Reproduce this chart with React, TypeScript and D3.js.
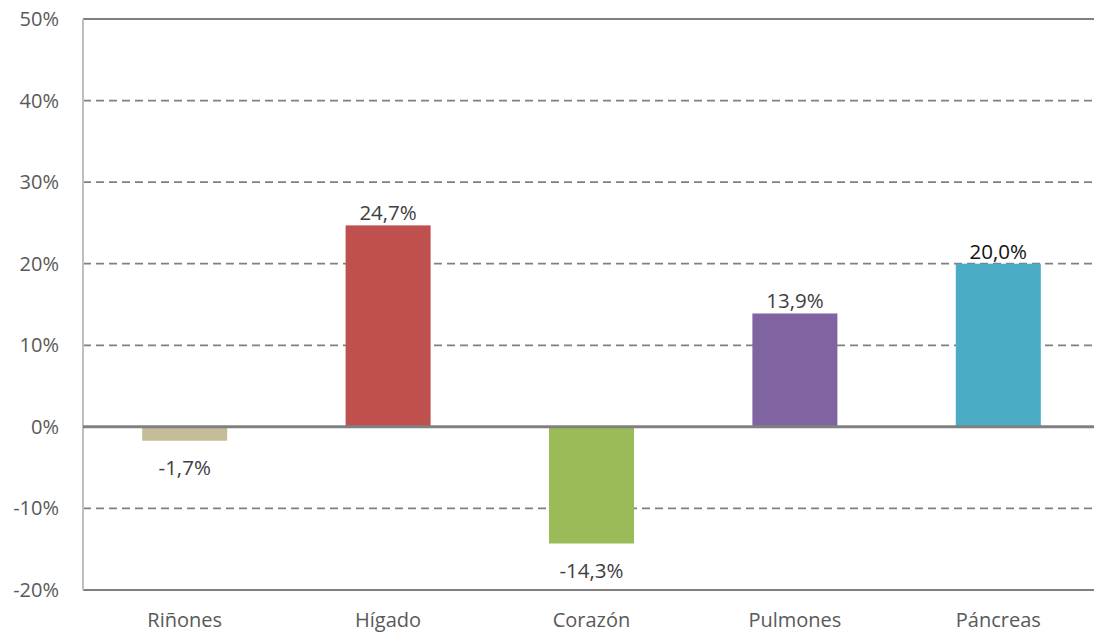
import React from 'react';
import * as d3 from 'd3';

const categories = ['Riñones', 'Hígado', 'Corazón', 'Pulmones', 'Páncreas'];
const values = [-1.7, 24.7, -14.3, 13.9, 20.0];
const barColors = ['#c4bd97', '#c0504d', '#9bbb59', '#8064a2', '#4bacc6'];
const yTicks = [-20, -10, 0, 10, 20, 30, 40, 50];

const W = 1094;
const H = 637;
const margin = { top: 19, right: -6, bottom: 47, left: 83 };

const fmt = (v: number) => `${v.toFixed(1).replace('.', ',')}%`;

const App: React.FC = () => {
  const x = d3.scaleBand<string>()
    .domain(categories)
    .range([margin.left, W - margin.right])
    .paddingInner(0.582)
    .paddingOuter(0.291);

  const y = d3.scaleLinear()
    .domain([-20, 50])
    .range([H - margin.bottom, margin.top]);

  const font = '"Open Sans", sans-serif';

  return (
    <svg width={W} height={H} style={{ position: 'absolute', left: 0, top: 0, background: '#fff' }}>
      {/* gridlines */}
      {yTicks.filter(t => t !== 0).map(t => {
        const solid = t === 50 || t === -20;
        return (
          <line
            key={`g${t}`}
            x1={margin.left}
            x2={W}
            y1={y(t)}
            y2={y(t)}
            stroke="#808080"
            strokeWidth={solid ? 1.8 : 1.7}
            strokeDasharray={solid ? undefined : '8,5'}
          />
        );
      })}

      {/* left axis */}
      <line x1={margin.left} x2={margin.left} y1={y(50)} y2={y(-20)} stroke="#bfbfbf" strokeWidth={2} />

      {/* tick labels */}
      {yTicks.map(t => (
        <text
          key={`t${t}`}
          x={59}
          y={y(t) + 7}
          textAnchor="end"
          fontFamily={font}
          fontSize={20}
          fill="#595959"
        >
          {`${t}%`}
        </text>
      ))}

      {/* bars */}
      {categories.map((c, i) => {
        const v = values[i];
        return (
          <rect
            key={`b${c}`}
            x={x(c)}
            width={x.bandwidth()}
            y={y(Math.max(0, v))}
            height={Math.abs(y(v) - y(0))}
            fill={barColors[i]}
          />
        );
      })}

      {/* zero line */}
      <line x1={margin.left} x2={W} y1={y(0)} y2={y(0)} stroke="#808080" strokeWidth={3} />

      {/* data labels */}
      {categories.map((c, i) => {
        const v = values[i];
        const cx = (x(c) ?? 0) + x.bandwidth() / 2;
        const ty = v >= 0 ? y(v) - 5 : y(v) + 34;
        return (
          <text
            key={`l${c}`}
            x={cx}
            y={ty}
            textAnchor="middle"
            fontFamily={font}
            fontSize={20.5}
            fill={c === 'Páncreas' ? '#111' : '#404040'}
          >
            {fmt(v)}
          </text>
        );
      })}

      {/* category labels */}
      {categories.map(c => (
        <text
          key={`c${c}`}
          x={(x(c) ?? 0) + x.bandwidth() / 2}
          y={627}
          textAnchor="middle"
          fontFamily={font}
          fontSize={20}
          fill="#595959"
        >
          {c}
        </text>
      ))}
    </svg>
  );
};

export default App;
